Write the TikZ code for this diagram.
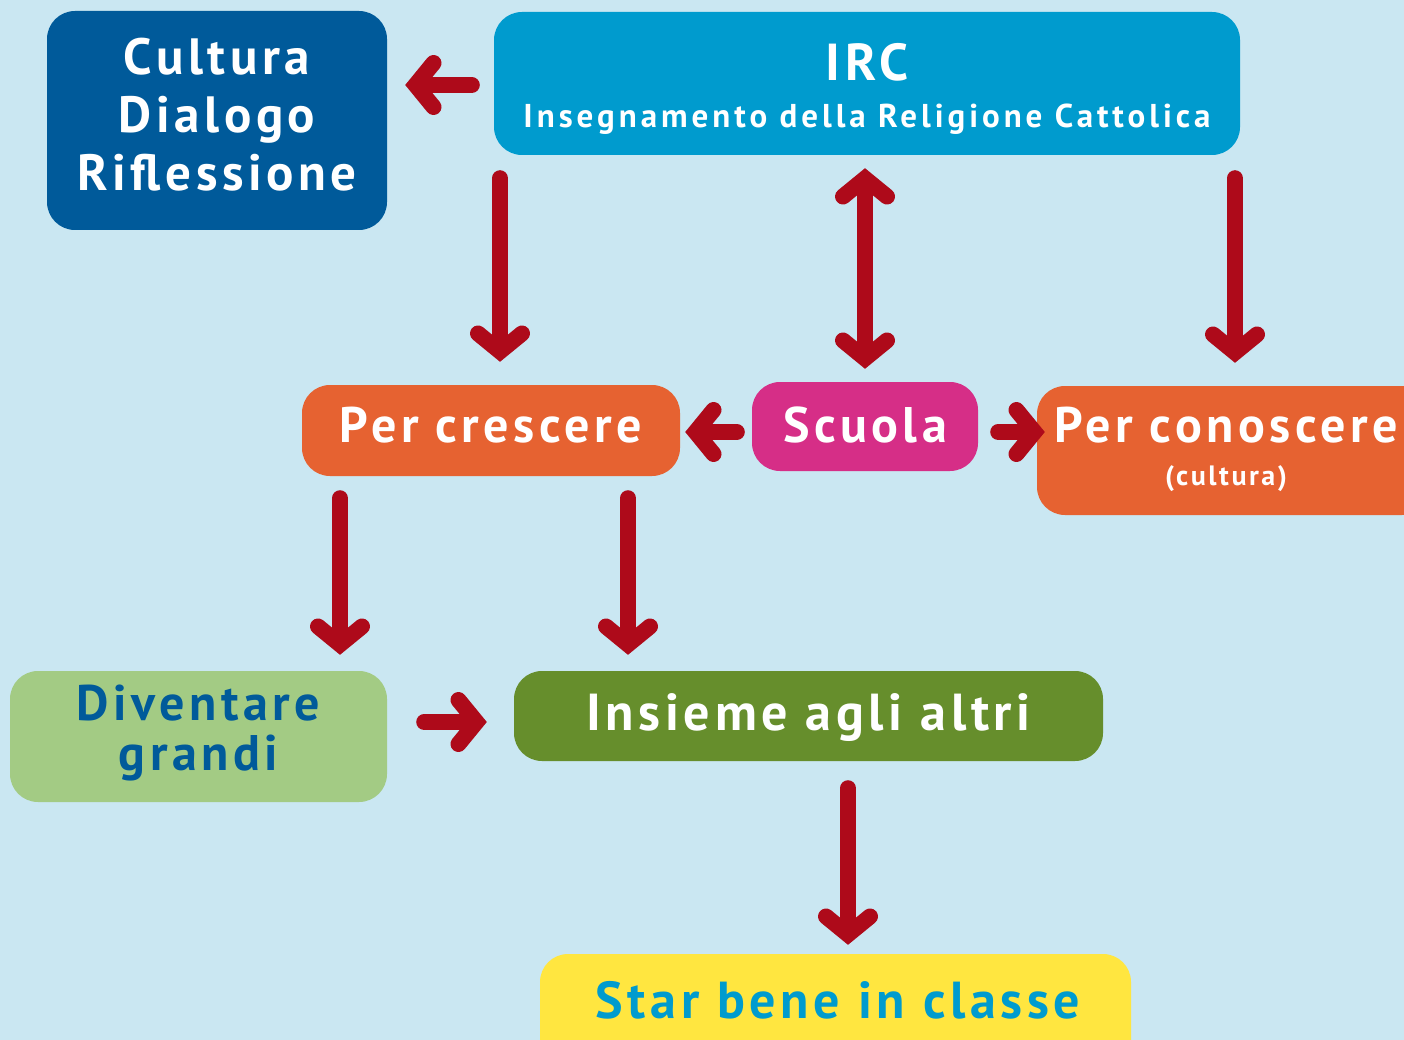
\documentclass[tikz,border=0pt]{standalone}
\usepackage{fontspec}
\setmainfont{PT Sans}[LetterSpace=9]
\newfontfamily\subfont{PT Sans}[LetterSpace=12]
\usetikzlibrary{arrows.meta,calc}
\definecolor{bg}{HTML}{CAE7F2}
\definecolor{dblue}{HTML}{005A9A}
\definecolor{lblue}{HTML}{009BCE}
\definecolor{orng}{HTML}{E66231}
\definecolor{mgnt}{HTML}{D62E87}
\definecolor{lgreen}{HTML}{A3CB84}
\definecolor{dgreen}{HTML}{668E2C}
\definecolor{yell}{HTML}{FFE640}
\definecolor{ared}{HTML}{AE0A1A}
\tikzset{
  box/.style={rectangle, rounded corners=28pt, inner sep=0pt},
  lab/.style={text=white, font=\bfseries\fontsize{50}{58}\selectfont, align=center, inner sep=0pt},
  conn/.style={draw=ared, line width=16pt, line cap=round,
    -{Straight Barb[length=18pt,width=44pt,line cap=round,line join=miter]}},
  conn2/.style={conn, {Straight Barb[length=18pt,width=44pt,line cap=round,line join=miter]}-{Straight Barb[length=18pt,width=44pt,line cap=round,line join=miter]}}
}
\begin{document}
\begin{tikzpicture}[x=1pt,y=-1pt]
\useasboundingbox (0,0) rectangle (1404,1040);
\clip (0,0) rectangle (1404,1040);
\fill[bg] (0,0) rectangle (1404,1040);

\node[box, fill=dblue, minimum width=340pt, minimum height=219pt] (cult) at (217,120.5) {};
\node[lab, font=\bfseries\fontsize{51}{58}\selectfont] (cultT) at (217,115) {Cultura\\Dialogo\\Riflessione};

\node[box, fill=lblue, minimum width=746pt, minimum height=143pt] (irc) at (867,83.5) {};
\node[lab, font=\bfseries\fontsize{52}{58}\selectfont] (ircT) at (867,62) {IRC};
\node[lab, font=\subfont\bfseries\fontsize{33}{38}\selectfont] (ircS) at (867,119) {Insegnamento della Religione Cattolica};

\node[box, fill=orng, minimum width=378pt, minimum height=91pt] (cresc) at (491,430.5) {};
\node[lab] (crescT) at (491,425) {Per crescere};

\node[box, fill=mgnt, minimum width=226pt, minimum height=89pt] (scuola) at (865,426.5) {};
\node[lab] (scuolaT) at (865,425) {Scuola};

\node[box, fill=orng, minimum width=393pt, minimum height=129pt] (conosc) at (1233.5,450.5) {};
\node[lab] (conoscT) at (1226,425) {Per conoscere};
\node[lab, font=\bfseries\fontsize{28}{32}\selectfont] (conoscS) at (1226,479) {(cultura)};

\node[box, fill=lgreen, minimum width=377pt, minimum height=131pt] (div) at (198.5,736.5) {};
\node[lab, text=dblue, font=\bfseries\fontsize{50}{50}\selectfont] (divT) at (198.5,733) {Diventare\\grandi};

\node[box, fill=dgreen, minimum width=589pt, minimum height=90pt] (ins) at (808.5,716) {};
\node[lab, font=\bfseries\fontsize{52}{58}\selectfont] (insT) at (808.5,718) {Insieme agli altri};

\node[box, fill=yell, minimum width=591pt, minimum height=116pt] (star) at (835.5,1012) {};
\node[lab, text=lblue, font=\bfseries\fontsize{52}{58}\selectfont] (starT) at (838,1000) {Star bene in classe};

% connectors
\draw[conn, shorten <=22pt, shorten >=18pt] (irc.west |- 0,85) -- (cult.east |- 0,85);
\draw[conn, shorten <=23pt, shorten >=23pt] (irc.south -| 500,0) -- (cresc.north -| 500,0);
\draw[conn2, shorten <=13pt, shorten >=13pt] (irc.south -| 865,0) -- (scuola.north -| 865,0);
\draw[conn, shorten <=23pt, shorten >=23pt] (irc.south -| 1235,0) -- (conosc.north -| 1235,0);
\draw[conn, shorten <=15pt, shorten >=5pt] (scuola.west |- 0,432) -- (cresc.east |- 0,432);
\draw[conn, shorten <=20pt, shorten >=-8pt] (scuola.east |- 0,432) -- (conosc.west |- 0,432);
\draw[conn, shorten <=22pt, shorten >=16pt] (cresc.south -| 340,0) -- (div.north -| 340,0);
\draw[conn, shorten <=22pt, shorten >=16pt] (cresc.south -| 628,0) -- (ins.north -| 628,0);
\draw[conn, shorten <=37pt, shorten >=27pt] (div.east |- 0,722) -- (ins.west |- 0,722);
\draw[conn, shorten <=27pt, shorten >=9pt] (ins.south -| 848,0) -- (star.north -| 848,0);
\end{tikzpicture}
\end{document}
